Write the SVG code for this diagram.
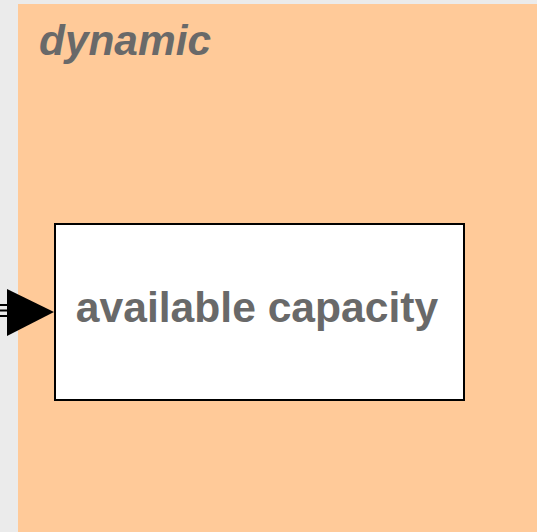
<svg xmlns="http://www.w3.org/2000/svg" width="537" height="532" viewBox="0 0 537 532">
<style>
.lbl{font-family:"Liberation Sans",Arial,sans-serif;font-weight:bold;fill:#696969}
</style>
<rect x="0" y="0" width="537" height="532" fill="#ebebeb"/>
<g id="dynamic">
<rect x="18" y="4" width="519" height="528" fill="#ffca99"/>
<text class="lbl" x="39" y="55" font-size="42.4" font-style="italic">dynamic</text>
</g>
<g id="connectors">
<line x1="0" y1="305" x2="10" y2="305" stroke="#000" stroke-width="2"/>
<line x1="0" y1="310.5" x2="10" y2="310.5" stroke="#000" stroke-width="2"/>
<line x1="0" y1="316" x2="10" y2="316" stroke="#000" stroke-width="2"/>
<polygon points="7,289 54,312 7,336" fill="#000"/>
</g>
<g id="available-capacity">
<rect x="55" y="224" width="409" height="176" fill="#ffffff" stroke="#000" stroke-width="2"/>
<text class="lbl" x="257" y="322" font-size="42.6" text-anchor="middle">available capacity</text>
</g>
</svg>
